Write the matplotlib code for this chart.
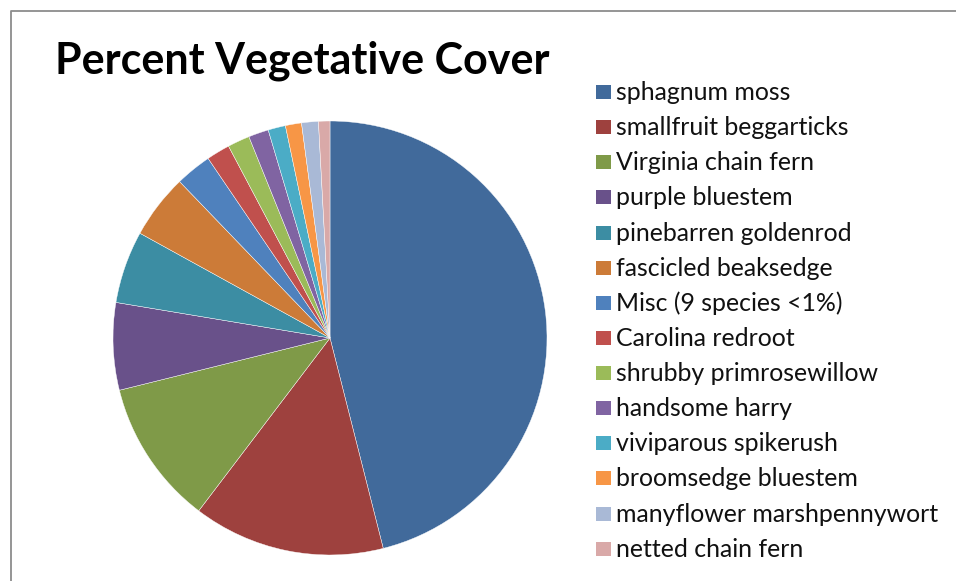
import matplotlib
matplotlib.use("Agg")
import matplotlib.pyplot as plt
from matplotlib.patches import Rectangle
from matplotlib.lines import Line2D

labels = ["sphagnum moss", "smallfruit beggarticks", "Virginia chain fern",
          "purple bluestem", "pinebarren goldenrod", "fascicled beaksedge",
          "Misc (9 species <1%)", "Carolina redroot", "shrubby primrosewillow",
          "handsome harry", "viviparous spikerush", "broomsedge bluestem",
          "manyflower marshpennywort", "netted chain fern"]
values = [46.1, 14.3, 10.8, 6.5, 5.4, 4.8, 2.7, 1.75, 1.65, 1.5, 1.3, 1.2, 1.25, 0.85]
colors = ["#416A9B", "#9E413E", "#7F9A48", "#69518A", "#3C8DA3", "#CC7B38",
          "#4F81BD", "#C0504D", "#9BBB59", "#8064A2", "#4BACC6", "#F79646",
          "#A9B9D6", "#D9A9A8"]

W, H = 956, 581
fig = plt.figure(figsize=(W / 100, H / 100), dpi=100)
fig.patch.set_facecolor("white")

def fx(px):
    return px / W

def fy(py):
    return 1 - py / H

# chart frame
fig.add_artist(Line2D([fx(10.5), fx(10.5), fx(W)], [fy(H), fy(10.5), fy(10.5)],
                      transform=fig.transFigure, color="#8c8c8c", lw=1.3))

# pie axes
cx, cy, r = 330, 338, 217
ax = fig.add_axes([fx(cx - r), fy(cy + r), 2 * r / W, 2 * r / H])
ax.pie(values, colors=colors, startangle=90, counterclock=False,
       wedgeprops=dict(edgecolor="white", linewidth=0.3))
ax.set_xlim(-1, 1)
ax.set_ylim(-1, 1)
ax.set_aspect("auto")
ax.axis("off")

# title
fig.text(fx(55), fy(73.5), "Percent Vegetative Cover", fontsize=31,
         fontweight="bold", family="Lato", va="baseline", ha="left")

# legend
y0, dy = 92, 35.13
for i, (lab, col) in enumerate(zip(labels, colors)):
    yc = y0 + i * dy
    fig.add_artist(Rectangle((fx(596), fy(yc + 7)), 15 / W, 14 / H,
                             transform=fig.transFigure, facecolor=col,
                             edgecolor="none"))
    fig.text(fx(616), fy(yc + 8), lab, fontsize=17.9, family="Lato",
             va="baseline", ha="left", color="#111111")

fig.savefig("out.png", dpi=100)
